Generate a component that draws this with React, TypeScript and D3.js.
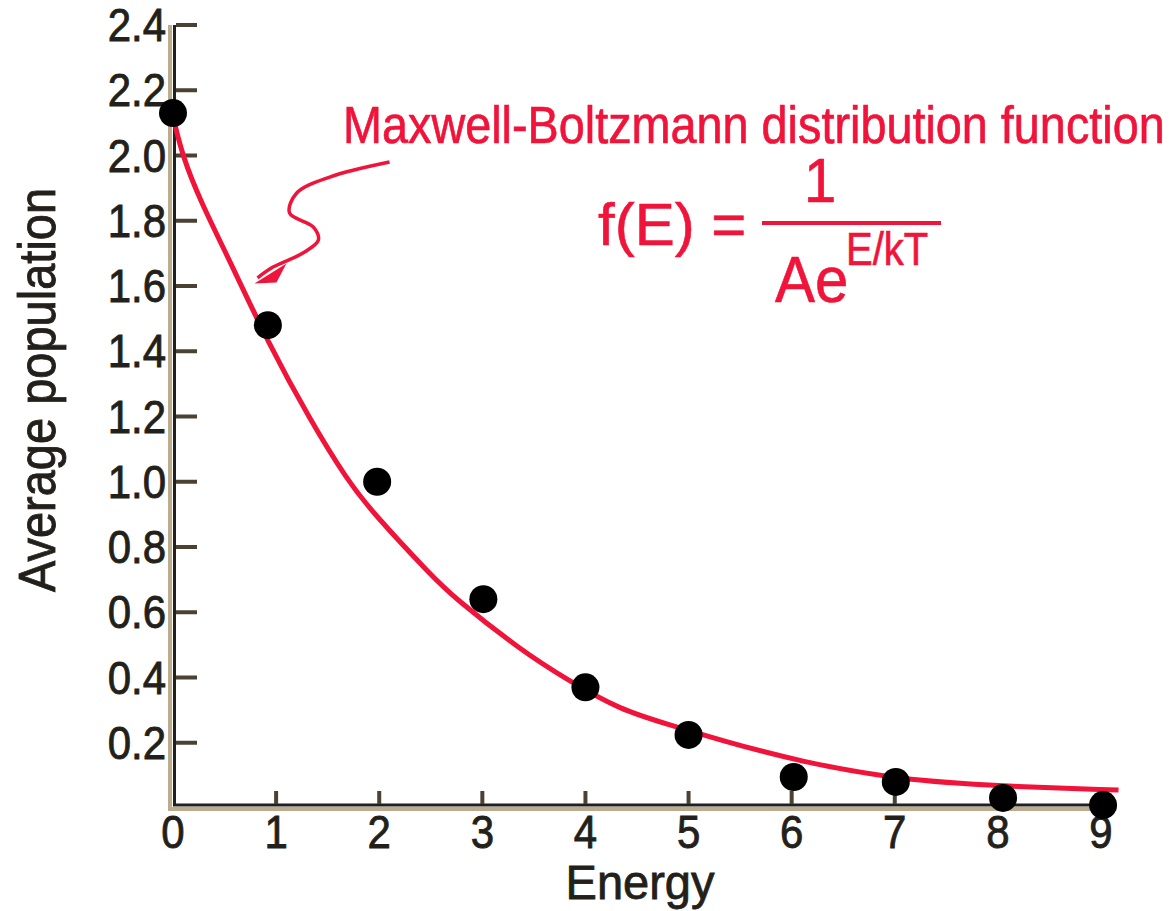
import React, { useEffect, useRef } from "react";
import * as d3 from "d3";

// measured points (energy, average population)
const energies = [0, 0.92, 1.98, 3.01, 4.0, 5.0, 6.02, 7.01, 8.05, 9.02];
const populations = [2.13, 1.48, 1.0, 0.64, 0.37, 0.224, 0.095, 0.08, 0.031, 0.009];

// fitted Maxwell-Boltzmann curve
const curveE = [0, 0.09, 0.26, 0.58, 0.91, 1.33, 1.69, 1.94, 2.52, 2.72, 3.37, 3.83, 4.34, 4.83, 5.31, 6.09, 7.06, 8.03, 9.17];
const curveV = [2.12, 2.0, 1.864, 1.658, 1.434, 1.189, 1.005, 0.904, 0.708, 0.647, 0.484, 0.392, 0.3, 0.254, 0.208, 0.141, 0.086, 0.067, 0.055];

// hand-drawn pointer from the label to the curve
const arrowE = [2.1, 1.52, 1.2, 1.13, 1.36, 1.41, 1.26, 0.97, 0.82];
const arrowV = [1.98, 1.934, 1.885, 1.824, 1.781, 1.741, 1.701, 1.658, 1.625];

const yTicks = [0.2, 0.4, 0.6, 0.8, 1.0, 1.2, 1.4, 1.6, 1.8, 2.0, 2.2, 2.4];
const xTicks = [0, 1, 2, 3, 4, 5, 6, 7, 8, 9];

const W = 1172;
const H = 911;
const RED = "#f0133a";
const INK = "#231f1a";
const BEIGE = "#bcab8c";
const FONT = "'Liberation Sans', Arial, Helvetica, sans-serif";

const App = () => {
  const svgRef = useRef(null);

  useEffect(() => {
    const svg = d3.select(svgRef.current);
    svg.selectAll("*").remove();

    const x = d3.scaleLinear().domain([0, 9]).range([173, 1101]);
    const y = d3.scaleLinear().domain([0, 2.4]).range([808, 25]);

    const text = (px, py, str, size, anchor, color, sy = 1.1, heavy = 0.8) =>
      svg
        .append("text")
        .attr("transform", `translate(${px},${py}) scale(1,${sy})`)
        .attr("font-family", FONT)
        .attr("font-size", size)
        .attr("text-anchor", anchor)
        .attr("fill", color)
        .attr("stroke", color)
        .attr("stroke-width", heavy)
        .text(str);

    // y axis (beige edge + dark edge)
    svg.append("line")
      .attr("x1", 170).attr("x2", 170)
      .attr("y1", y(2.4)).attr("y2", 810)
      .attr("stroke", BEIGE).attr("stroke-width", 4);
    svg.append("line")
      .attr("x1", 174.5).attr("x2", 174.5)
      .attr("y1", y(2.4)).attr("y2", 806)
      .attr("stroke", INK).attr("stroke-width", 3);

    // x axis
    svg.append("line")
      .attr("x1", 168).attr("x2", x(9.15))
      .attr("y1", 809).attr("y2", 809)
      .attr("stroke", BEIGE).attr("stroke-width", 4);
    svg.append("line")
      .attr("x1", 173).attr("x2", x(9.15))
      .attr("y1", 805).attr("y2", 805)
      .attr("stroke", INK).attr("stroke-width", 3);

    // y ticks point inward
    svg.selectAll(".ytick")
      .data(yTicks)
      .join("line")
      .attr("class", "ytick")
      .attr("x1", 176).attr("x2", 197)
      .attr("y1", (d) => y(d)).attr("y2", (d) => y(d))
      .attr("stroke", "#4a4133").attr("stroke-width", 4);

    svg.selectAll(".xtick")
      .data(xTicks.slice(1))
      .join("line")
      .attr("class", "xtick")
      .attr("x1", (d) => x(d)).attr("x2", (d) => x(d))
      .attr("y1", 791).attr("y2", 804)
      .attr("stroke", "#4a4133").attr("stroke-width", 4);

    yTicks.forEach((t) => text(166, y(t) + 16, t.toFixed(1), 42, "end", INK));
    xTicks.forEach((t) => text(x(t), 848, String(t), 42, "middle", INK));

    text(640, 899, "Energy", 47, "middle", INK, 1.02);
    svg.append("text")
      .attr("transform", "translate(55,390) rotate(-90) scale(1,1.1)")
      .attr("font-family", FONT)
      .attr("font-size", 47)
      .attr("text-anchor", "middle")
      .attr("fill", INK)
      .attr("stroke", INK)
      .attr("stroke-width", 0.8)
      .text("Average population");

    // curve
    const pts = curveE.map((e, i) => [e, curveV[i]]);
    const line = d3.line()
      .x((d) => x(d[0]))
      .y((d) => y(d[1]))
      .curve(d3.curveBasis);
    svg.append("path")
      .datum(pts)
      .attr("fill", "none")
      .attr("stroke", RED)
      .attr("stroke-width", 5)
      .attr("d", line);

    // points
    svg.selectAll(".dot")
      .data(energies.map((e, i) => [e, populations[i]]))
      .join("circle")
      .attr("class", "dot")
      .attr("cx", (d) => x(d[0]))
      .attr("cy", (d) => y(d[1]))
      .attr("r", 14)
      .attr("fill", "#000");

    // annotation
    text(343, 143, "Maxwell-Boltzmann distribution function", 46.8, "start", RED, 1.12, 0.6);

    const arrowPts = arrowE.map((e, i) => [e, arrowV[i]]);
    const arrowLine = d3.line()
      .x((d) => x(d[0]))
      .y((d) => y(d[1]))
      .curve(d3.curveCatmullRom);
    svg.append("path")
      .datum(arrowPts)
      .attr("fill", "none")
      .attr("stroke", RED)
      .attr("stroke-width", 3.5)
      .attr("d", arrowLine);
    const tip = [x(0.79), y(1.608)];
    svg.append("path")
      .attr("d", `M${tip[0]},${tip[1]} L${tip[0] + 32},${tip[1] - 20} L${tip[0] + 22},${tip[1] - 1} Z`)
      .attr("fill", RED);

    // formula
    text(598, 245, "f(E) =", 60, "start", RED, 1.0, 0.6);
    svg.append("line")
      .attr("x1", 762).attr("x2", 941)
      .attr("y1", 223).attr("y2", 223)
      .attr("stroke", RED).attr("stroke-width", 4);
    text(820, 202, "1", 58, "middle", RED, 1.08, 0.6);
    text(775, 302, "Ae", 60, "start", RED, 1.08, 0.6);
    text(846, 265, "E/kT", 40, "start", RED, 1.15, 0.6);
  }, []);

  return (
    <svg
      ref={svgRef}
      width={W}
      height={H}
      style={{ position: "absolute", left: 0, top: 0, background: "#fff" }}
    />
  );
};

export default App;
